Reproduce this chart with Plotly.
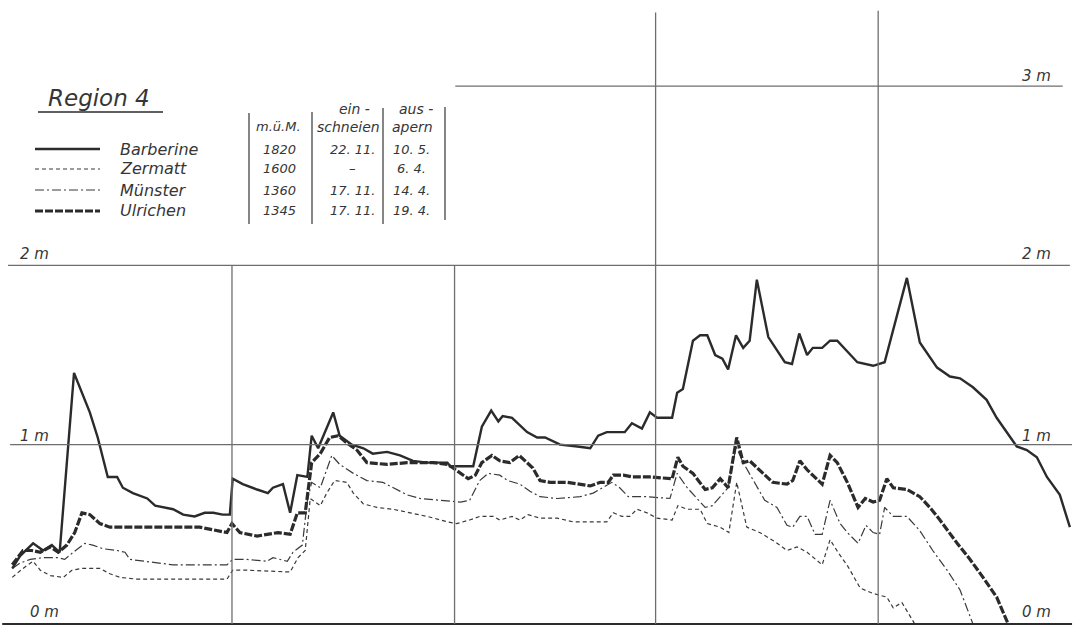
import plotly.graph_objects as go

W, H = 1079, 630

# Station table (Region 4)
stations = ["Barberine", "Zermatt", "Münster", "Ulrichen"]
altitude = ["1820", "1600", "1360", "1345"]
einschneien = ["22. 11.", "–", "17. 11.", "17. 11."]
ausapern = ["10. 5.", "6. 4.", "14. 4.", "19. 4."]

# Snow depth: day counted from 1 December, depth in cm
barberine_day = [0.4, 1.5, 3.3, 4.7, 5.9, 7.0, 9.0, 11.2, 12.3, 13.7, 15.0, 15.8, 17.2, 19.2, 20.3,
                 21.4, 22.8, 24.2, 25.8, 27.2, 28.4, 29.7, 30.7, 31.1, 32.5, 34.5, 36.0, 36.7, 38.1,
                 39.1, 40.1, 41.5, 42.1, 43.0, 45.1, 46.0, 47.7, 49.3, 50.6, 52.6, 54.4, 56.2, 58.2,
                 61.0, 61.4, 64.6, 65.8, 67.1, 68.1, 68.7, 70.0, 72.1, 73.5, 74.6, 76.7, 79.1, 80.9,
                 82.0, 83.2, 85.7, 86.7, 88.1, 89.2, 90.2, 92.3, 93.0, 93.8, 95.2, 96.2, 97.2, 98.3,
                 99.3, 100.1, 101.2, 102.2, 103.1, 104.1, 105.7, 108.0, 109.0, 110.0, 111.1, 111.9,
                 113.2, 114.3, 115.3, 118.1, 120.3, 121.9, 125.0, 126.8, 129.2, 131.0, 132.4, 134.2,
                 136.1, 137.5, 140.3, 141.7, 143.1, 144.5, 146.3, 147.7]
barberine_cm = [31, 38, 45, 41, 44, 40, 140, 118, 104, 82, 82, 76, 73, 70, 66,
                65, 64, 61, 60, 62, 62, 61, 61, 81, 78, 75, 73, 76, 78,
                62, 83, 82, 105, 98, 118, 105, 100, 98, 95, 96, 94, 91, 90,
                90, 88, 88, 110, 119, 113, 116, 115, 107, 104, 104, 100, 99, 98,
                105, 107, 107, 112, 109, 118, 115, 115, 129, 131, 158, 161, 161, 150,
                148, 142, 161, 154, 158, 192, 160, 146, 145, 162, 150, 154,
                154, 158, 158, 146, 144, 146, 193, 157, 143, 138, 137, 132,
                125, 115, 99, 97, 93, 82, 72, 54]

zermatt_day = [0.4, 1.9, 3.3, 4.3, 5.7, 7.5, 8.7, 10.1, 12.6, 14.0, 15.4, 17.8, 21.9, 30.3, 31.1,
               33.1, 39.1, 40.2, 41.2, 41.9, 43.3, 44.2, 45.3, 47.0, 47.9, 49.3, 51.2, 53.4, 55.8,
               58.2, 61.0, 62.3, 64.1, 65.5, 67.4, 68.3, 70.0, 71.1, 72.2, 73.9, 76.3, 78.5, 83.2,
               84.1, 85.3, 86.4, 87.4, 88.8, 90.2, 92.3, 93.1, 94.4, 96.2, 97.2, 99.0, 100.2, 101.3,
               102.7, 104.5, 106.6, 108.3, 109.7, 111.1, 113.2, 114.3, 115.4, 116.8, 118.5, 120.3,
               122.2, 123.1, 124.3, 126.1]
zermatt_cm = [26, 31, 35, 30, 27, 26, 30, 31, 31, 28, 26, 25, 25, 25, 30,
              30, 29, 37, 41, 70, 66, 73, 80, 79, 73, 67, 65, 64, 62,
              60, 57, 56, 58, 60, 60, 58, 60, 58, 61, 59, 59, 57, 57,
              62, 60, 60, 64, 62, 59, 58, 66, 64, 64, 56, 54, 51, 79,
              54, 51, 46, 41, 43, 40, 33, 47, 40, 32, 20, 17,
              15, 9, 12, 0]

muenster_day = [0.4, 1.5, 2.9, 4.7, 6.8, 7.7, 8.9, 10.5, 11.6, 13.0, 15.0, 16.1, 16.8, 18.6, 20.6,
                22.8, 26.5, 30.3, 31.1, 33.1, 35.9, 36.7, 38.7, 39.5, 40.8, 41.5, 42.1, 43.3, 44.9,
                46.0, 47.9, 49.8, 52.0, 53.4, 55.4, 57.2, 60.0, 62.8, 64.1, 65.5, 66.7, 68.3, 69.4,
                71.1, 72.5, 73.9, 76.3, 79.5, 81.3, 82.7, 83.9, 85.0, 86.2, 88.8, 92.0, 93.0, 94.4,
                96.9, 97.9, 100.1, 101.2, 102.2, 103.8, 105.2, 106.9, 108.3, 109.1, 110.1, 111.1,
                112.2, 113.2, 114.3, 115.7, 116.7, 118.2, 119.3, 120.3, 121.2, 121.9, 123.1, 125.0,
                126.8, 128.6, 130.6, 132.4, 134.2]
muenster_cm = [31, 34, 36, 37, 37, 36, 40, 45, 44, 42, 41, 40, 36, 35, 34,
               33, 33, 33, 36, 36, 35, 37, 35, 40, 44, 69, 79, 76, 94,
               89, 84, 80, 79, 76, 72, 70, 69, 68, 69, 80, 84, 83, 80,
               78, 74, 71, 70, 71, 73, 76, 79, 76, 71, 71, 70, 84, 76,
               65, 66, 76, 99, 90, 79, 69, 65, 55, 54, 60, 60,
               50, 50, 69, 56, 51, 45, 55, 51, 50, 65, 60, 60,
               52, 41, 30, 19, 0]

ulrichen_day = [0.4, 1.9, 3.1, 4.3, 5.7, 6.8, 8.0, 9.1, 10.1, 11.2, 12.6, 14.0, 17.2, 26.5, 30.3,
                31.0, 32.1, 34.5, 37.4, 39.1, 40.1, 41.2, 42.1, 43.3, 44.6, 45.8, 47.0, 48.4, 49.8,
                52.6, 55.4, 59.0, 61.0, 61.8, 63.9, 64.9, 65.8, 67.2, 68.3, 69.7, 71.0, 72.1, 72.9,
                73.9, 75.3, 77.7, 79.5, 80.9, 82.3, 83.4, 84.1, 85.5, 86.8, 89.2, 92.3, 93.1, 93.8,
                95.2, 96.9, 97.9, 99.0, 100.1, 101.3, 102.2, 103.1, 104.5, 106.3, 108.3, 109.1,
                110.1, 111.1, 113.2, 114.3, 115.3, 116.7, 118.2, 119.2, 120.3, 121.2, 122.2, 123.1,
                125.0, 126.8, 128.2, 129.6, 132.0, 133.8, 135.6, 137.5, 139.1]
ulrichen_cm = [33, 41, 41, 40, 43, 40, 44, 51, 62, 61, 56, 54, 54, 54, 51,
               56, 51, 49, 51, 50, 62, 62, 90, 95, 104, 105, 101, 97, 90,
               89, 90, 90, 89, 87, 81, 83, 90, 94, 91, 90, 94, 90, 87,
               80, 79, 79, 78, 77, 79, 79, 83, 83, 82, 82, 81, 93, 88,
               84, 75, 76, 81, 76, 104, 90, 91, 86, 79, 78, 80,
               91, 86, 78, 94, 90, 79, 65, 70, 68, 69, 81, 76,
               75, 71, 65, 58, 45, 36, 26, 15, 0]

series = {
    "Barberine": (barberine_day, barberine_cm),
    "Zermatt": (zermatt_day, zermatt_cm),
    "Münster": (muenster_day, muenster_cm),
    "Ulrichen": (ulrichen_day, ulrichen_cm),
}
for name, (d, v) in series.items():
    assert len(d) == len(v), name

# Grid: depth levels (cm) and month boundaries (day from 1 Dec: Jan, Feb, Mar, Apr)
levels_cm = [0, 100, 200, 300]
level_labels = ["0 m", "1 m", "2 m", "3 m"]
level_span = [(-1.0, 148.0), (0.1, 148.0), (-0.2, 147.7), (62.1, 146.7)]
month_start = [31, 62, 90, 121]
month_top_cm = [200, 200, 341, 342]

INK = "#2b2b2b"
GRID = "#6e6e6e"
style = {
    "Barberine": dict(color=INK, width=2.4, dash="solid"),
    "Zermatt": dict(color="#3a3a3a", width=1.2, dash="4px,3px"),
    "Münster": dict(color="#3a3a3a", width=1.2, dash="9px,3px,2px,3px"),
    "Ulrichen": dict(color=INK, width=3.2, dash="8px,2px"),
}

fig = go.Figure()
for name in ["Zermatt", "Münster", "Ulrichen", "Barberine"]:
    d, v = series[name]
    fig.add_trace(go.Scatter(x=d, y=v, mode="lines", name=name,
                             line=dict(**style[name]), hoverinfo="skip"))

shapes = []
for lvl, (x0, x1) in zip(levels_cm, level_span):
    shapes.append(dict(type="line", xref="x", yref="y", x0=x0, x1=x1, y0=lvl, y1=lvl,
                       line=dict(color=INK if lvl == 0 else GRID, width=2 if lvl == 0 else 1.3)))
for m, top in zip(month_start, month_top_cm):
    shapes.append(dict(type="line", xref="x", yref="y", x0=m, x1=m, y0=0, y1=top,
                       line=dict(color=GRID, width=1.3)))


def px(x, y):
    return x / W, 1 - y / H


FONT = "DejaVu Sans"
TXT = "#363636"
annotations = []


def text(x, y, s, size, xanchor="center"):
    fx, fy = px(x, y)
    annotations.append(dict(xref="paper", yref="paper", x=fx, y=fy, text=s, showarrow=False,
                            xanchor=xanchor, yanchor="middle",
                            font=dict(family=FONT, size=size, color=TXT, style="italic")))


def pline(x0, y0, x1, y1, width=1.3, dash="solid", color=GRID):
    a, b = px(x0, y0)
    c, e = px(x1, y1)
    shapes.append(dict(type="line", xref="paper", yref="paper", x0=a, y0=b, x1=c, y1=e,
                       line=dict(color=color, width=width, dash=dash)))


# Depth labels on both sides
for lab, ly in zip(level_labels, [612, 436, 254, 76]):
    if lab != "3 m":
        text(34 if lab != "0 m" else 44, ly, lab, 15)
    text(1036, ly, lab, 15)

# Title
text(46, 98, "Region 4", 23, xanchor="left")
pline(38, 112, 163, 112, width=1.5, color=INK)

# Legend with line samples and station table
rows_y = [149, 169, 190, 211]
for name, ry, alt, ein, aus in zip(stations, rows_y, altitude, einschneien, ausapern):
    st = style[name]
    pline(35, ry, 100, ry, width=st["width"], dash=st["dash"], color=st["color"])
    text(118, ry, name, 16, xanchor="left")
    text(280, ry, alt, 13)
    text(352, ry, ein, 13)
    text(411, ry, aus, 13)

text(278, 127, "m.ü.M.", 13)
text(354, 109, "ein -", 14)
text(348, 127, "schneien", 14)
text(416, 109, "aus -", 14)
text(412, 127, "apern", 14)
for vx, vy0, vy1 in [(249, 113, 224), (312, 112, 224), (383, 108, 224), (445, 107, 220)]:
    pline(vx, vy0, vx, vy1, width=1.3, color="#444444")

fig.update_layout(
    width=W, height=H,
    margin=dict(l=0, r=0, t=0, b=0),
    paper_bgcolor="white", plot_bgcolor="white",
    showlegend=False,
    xaxis=dict(range=[-1.31, 148.97], visible=False, fixedrange=True),
    yaxis=dict(range=[-3.35, 348.0], visible=False, fixedrange=True),
    shapes=shapes,
    annotations=annotations,
)

fig.write_html("out.html")
